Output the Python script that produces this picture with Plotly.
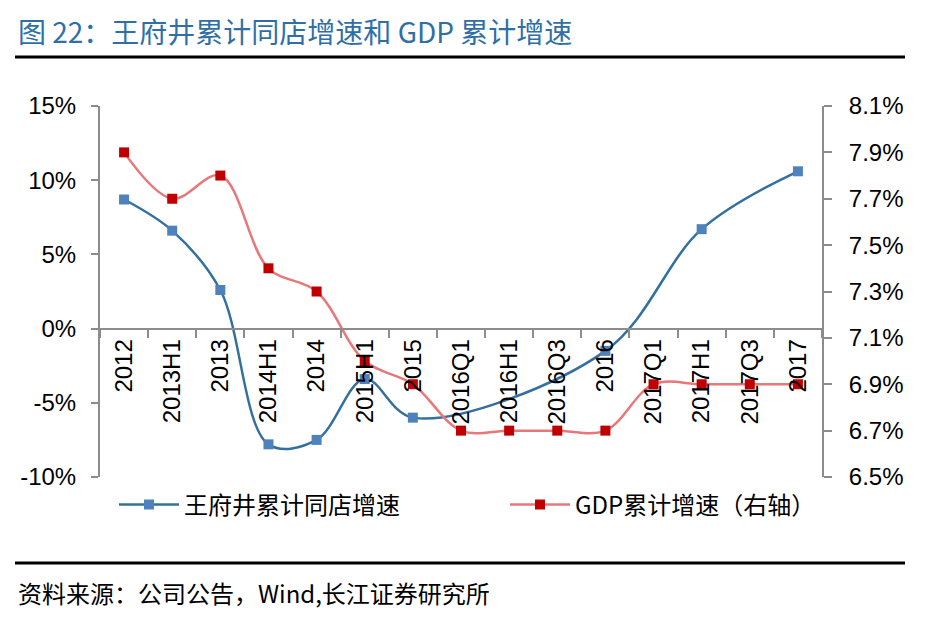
import plotly.graph_objects as go

categories = ["2012", "2013H1", "2013", "2014H1", "2014", "2015H1", "2015",
              "2016Q1", "2016H1", "2016Q3", "2016", "2017Q1", "2017H1", "2017Q3", "2017"]
wfj_sss = [8.7, 6.6, 2.6, -7.8, -7.5, -3.4, -6.0, None, None, None, -1.5, None, 6.7, None, 10.6]
gdp = [7.9, 7.7, 7.8, 7.4, 7.3, 7.0, 6.9, 6.7, 6.7, 6.7, 6.7, 6.9, 6.9, 6.9, 6.9]

left_ticks = [-10, -5, 0, 5, 10, 15]
left_labels = ["-10%", "-5%", "0%", "5%", "10%", "15%"]
right_ticks = [6.5, 6.7, 6.9, 7.1, 7.3, 7.5, 7.7, 7.9, 8.1]
right_labels = ["6.5%", "6.7%", "6.9%", "7.1%", "7.3%", "7.5%", "7.7%", "7.9%", "8.1%"]

OFF = 8  # page body margin
W, H = 936 - 2 * OFF, 624 - 2 * OFF
L, R, T, B = 100 - OFF, 822 - OFF, 106 - OFF, 477 - OFF
pw, ph = R - L, B - T


def px(x):
    return (x - OFF - L) / pw


def py(y):
    return (B - (y - OFF)) / ph


fig = go.Figure()
fig.add_trace(go.Scatter(
    x=categories, y=wfj_sss, name="王府井累计同店增速",
    mode="lines+markers", connectgaps=True,
    line=dict(color="#33709F", width=2.5, shape="spline"),
    marker=dict(symbol="square", size=10, color="#4F81BD"),
    yaxis="y", legend="legend"))
fig.add_trace(go.Scatter(
    x=categories, y=gdp, name="GDP累计增速（右轴）",
    mode="lines+markers",
    line=dict(color="#E8777A", width=2.5, shape="spline"),
    marker=dict(symbol="square", size=10, color="#C00000"),
    yaxis="y2", legend="legend2"))

axis_gray = "#8C8C8C"
tick_font = dict(family="Liberation Sans, Arial, sans-serif", size=24, color="#000000")
legend_font = dict(family="Noto Sans CJK SC", size=24, color="#000000")

fig.update_layout(
    width=W, height=H,
    margin=dict(l=L, r=W - R, t=T, b=H - B),
    paper_bgcolor="white", plot_bgcolor="white",
    showlegend=True,
    legend=dict(orientation="h", x=px(114), y=py(505), xanchor="left", yanchor="middle",
                font=legend_font, itemwidth=60, bgcolor="rgba(0,0,0,0)"),
    legend2=dict(orientation="h", x=px(505), y=py(505), xanchor="left", yanchor="middle",
                 font=legend_font, itemwidth=60, bgcolor="rgba(0,0,0,0)"),
    xaxis=dict(type="category", anchor="free", position=0.4,
               showline=True, linecolor=axis_gray, linewidth=2,
               ticks="outside", ticklen=8, tickcolor=axis_gray, tickwidth=2,
               tickson="boundaries", tickangle=-90,
               tickfont=tick_font,
               showgrid=False, zeroline=False, range=[-0.5, len(categories) - 0.5]),
    yaxis=dict(range=[-10, 15], tickvals=left_ticks, ticktext=left_labels,
               showline=True, linecolor=axis_gray, linewidth=2,
               ticks="outside", ticklen=7, tickcolor=axis_gray, tickwidth=2,
               ticklabelstandoff=10,
               tickfont=tick_font, showgrid=False, zeroline=False),
    yaxis2=dict(range=[6.5, 8.1], tickvals=right_ticks, ticktext=right_labels,
                overlaying="y", side="right",
                showline=True, linecolor=axis_gray, linewidth=2,
                ticks="outside", ticklen=8, tickcolor=axis_gray, tickwidth=2,
                ticklabelstandoff=12,
                tickfont=tick_font, showgrid=False, zeroline=False),
    shapes=[
        dict(type="line", xref="paper", yref="paper", x0=px(15), x1=px(905), y0=py(57), y1=py(57),
             line=dict(color="#000000", width=3)),
        dict(type="line", xref="paper", yref="paper", x0=px(15), x1=px(905), y0=py(563), y1=py(563),
             line=dict(color="#000000", width=3)),
    ],
    annotations=[
        dict(text="图 22：王府井累计同店增速和 GDP 累计增速", xref="paper", yref="paper",
             x=px(16), y=py(31), xanchor="left", yanchor="middle", showarrow=False,
             font=dict(family="Noto Sans CJK SC", size=28, color="#2F6FA6")),
        dict(text="资料来源：公司公告，Wind,长江证券研究所", xref="paper", yref="paper",
             x=px(16), y=py(592), xanchor="left", yanchor="middle", showarrow=False,
             font=dict(family="Noto Sans CJK SC", size=24, color="#000000")),
    ],
)

fig.write_html("out.html")
